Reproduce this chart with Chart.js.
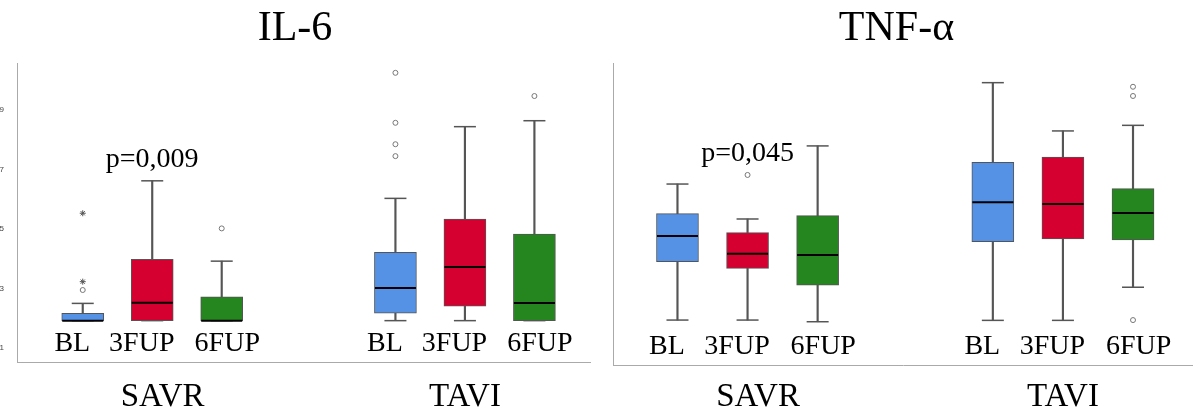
<!DOCTYPE html>
<html>
<head>
<meta charset="utf-8">
<script src="https://cdn.jsdelivr.net/npm/chart.js@4.4.1/dist/chart.umd.min.js"></script>
<style>
  body { margin: 0; background: #fff; }
  #left { position: absolute; left: 0; top: 0; }
  #right { position: absolute; left: 600px; top: 0; }
</style>
</head>
<body>
<canvas id="left" width="600" height="414"></canvas>
<canvas id="right" width="593" height="414"></canvas>
<script>
const groups = ['SAVR', 'TAVI'];
const categories = ['BL', '3FUP', '6FUP'];
const colors = ['#5592e6', '#d5002f', '#25861f'];

// order of every array: SAVR BL, 3FUP, 6FUP, then TAVI BL, 3FUP, 6FUP
const il6Low = [1.92, 1.92, 1.92, 1.92, 1.92, 1.92];
const il6Q1 = [1.92, 1.92, 1.92, 2.17, 2.41, 1.92];
const il6Median = [1.92, 2.52, 1.92, 3.02, 3.72, 2.51];
const il6Q3 = [2.17, 3.98, 2.72, 4.22, 5.33, 4.83];
const il6High = [2.50, 6.62, 3.92, 6.03, 8.44, 8.64];
const il6Outliers = [[2.95], [], [5.02], [10.25, 8.57, 7.85, 7.45], [], [9.47]];
const il6Extremes = [[3.23, 5.53], [], [], [], [], []];
const il6Ticks = [1, 3, 5, 7, 9];
const il6P = 'p=0,009';

const tnfLow = [4.11, 4.11, 4.00, 4.09, 4.09, 6.28];
const tnfQ1 = [7.97, 7.53, 6.41, 9.29, 9.47, 9.40];
const tnfMedian = [9.67, 8.50, 8.41, 11.89, 11.78, 11.19];
const tnfQ3 = [11.14, 9.89, 11.01, 14.54, 14.89, 12.80];
const tnfHigh = [13.10, 10.79, 15.62, 19.80, 16.61, 16.98];
const tnfOutliers = [[], [13.70], [], [], [], [19.53, 18.92, 4.11]];
const tnfExtremes = [[], [], [], [], [], []];
const tnfTicks = [2, 7, 12, 17];
const tnfP = 'p=0,045';

const xPos = (gi, ci) => gi * 4.5 + ci;

const labelsPlugin = {
  id: 'boxLabels',
  afterDatasetsDraw(chart, args, opts) {
    const { ctx, chartArea, scales: { x, y } } = chart;
    ctx.save();
    ctx.fillStyle = '#000';
    ctx.font = '28px "Liberation Serif"';
    ctx.textAlign = 'center';
    ctx.textBaseline = 'alphabetic';
    groups.forEach((g, gi) => categories.forEach((c, ci) => {
      const shift = ci === 2 ? 0.08 : -0.15;
      ctx.fillText(c, x.getPixelForValue(xPos(gi, ci) + shift), chartArea.bottom - 11);
    }));
    const top = Math.max(opts.high[1], ...opts.outliers[1]);
    ctx.fillText(opts.text, x.getPixelForValue(xPos(0, 1)), y.getPixelForValue(top) - 14);
    ctx.restore();
  }
};

function buildDatasets(low, q1, med, q3, high, outliers, extremes) {
  const idx = [];
  groups.forEach((g, gi) => categories.forEach((c, ci) => idx.push({ x: xPos(gi, ci), ci })));
  const pts = (list) => idx.flatMap((p, i) => list[i].map(v => ({ x: p.x, y: v })));
  return [
    { type: 'scatter', order: 0, data: idx.map((p, i) => ({ x: p.x, y: med[i] })),
      pointStyle: 'line', pointRadius: 20.5, pointBorderColor: '#000', pointBorderWidth: 2 },
    { type: 'scatter', order: 0, data: pts(outliers),
      pointStyle: 'circle', pointRadius: 2.5, pointBackgroundColor: '#fff', pointBorderColor: '#777', pointBorderWidth: 1 },
    { type: 'scatter', order: 0, data: pts(extremes),
      pointStyle: 'star', pointRadius: 3, pointBorderColor: '#555', pointBorderWidth: 1 },
    { type: 'bar', order: 1, data: idx.map((p, i) => ({ x: p.x, y: [q1[i], q3[i]] })),
      backgroundColor: idx.map(p => colors[p.ci]), borderColor: '#555', borderWidth: 1,
      borderSkipped: false, barThickness: 42, grouped: false },
    { type: 'bar', order: 2, data: idx.map((p, i) => ({ x: p.x, y: [low[i], high[i]] })),
      backgroundColor: '#555', barThickness: 1.5, grouped: false },
    { type: 'scatter', order: 2, data: idx.flatMap((p, i) => [{ x: p.x, y: low[i] }, { x: p.x, y: high[i] }]),
      pointStyle: 'line', pointRadius: 11, pointBorderColor: '#555', pointBorderWidth: 1.5 }
  ];
}

function makeChart(id, title, stats, ticks, pText, yRange, xRange, yWidth, xHeight, xPad, padRight) {
  const [low, q1, med, q3, high, outliers, extremes] = stats;
  return new Chart(document.getElementById(id), {
    type: 'bar',
    data: { datasets: buildDatasets(low, q1, med, q3, high, outliers, extremes) },
    plugins: [labelsPlugin],
    options: {
      responsive: false,
      animation: false,
      layout: { autoPadding: false, padding: { right: padRight } },
      plugins: {
        legend: { display: false },
        tooltip: { enabled: false },
        title: {
          display: true, text: title, color: '#000',
          font: { family: 'Liberation Serif', size: 42, weight: 'normal' },
          padding: { top: 4, bottom: 8.6 }
        },
        boxLabels: { text: pText, high, outliers }
      },
      scales: {
        x: {
          type: 'linear', min: xRange[0], max: xRange[1], offset: false,
          grid: { display: false },
          border: { color: '#aaa' },
          // group names sit under the middle box (SAVR a little to the right)
          afterBuildTicks: s => { s.ticks = groups.map((g, gi) => ({ value: xPos(gi, 1) + (gi === 0 ? 0.15 : 0) })); },
          afterFit: s => { s.height = xHeight; s.paddingLeft = 0; s.paddingRight = 0; },
          ticks: {
            callback: (v, i) => groups[i], color: '#000', padding: xPad,
            font: { family: 'Liberation Serif', size: 33 }, maxRotation: 0, autoSkip: false
          }
        },
        y: {
          min: yRange[0], max: yRange[1],
          grid: { display: false },
          border: { color: '#aaa' },
          afterBuildTicks: s => { s.ticks = ticks.map(v => ({ value: v })); },
          afterFit: s => { s.width = yWidth; },
          ticks: { color: '#444', padding: 5, font: { family: 'Liberation Sans', size: 8 } }
        }
      }
    }
  });
}

makeChart('left', 'IL-6',
  [il6Low, il6Q1, il6Median, il6Q3, il6High, il6Outliers, il6Extremes],
  il6Ticks, il6P, [0.53, 10.58], [-0.946, 7.30], 17, 52, 8, 10);

makeChart('right', 'TNF-α',
  [tnfLow, tnfQ1, tnfMedian, tnfQ3, tnfHigh, tnfOutliers, tnfExtremes],
  tnfTicks, tnfP, [1.14, 21.10], [-0.920, 7.356], 13, 49, 5, 0);
</script>
</body>
</html>
